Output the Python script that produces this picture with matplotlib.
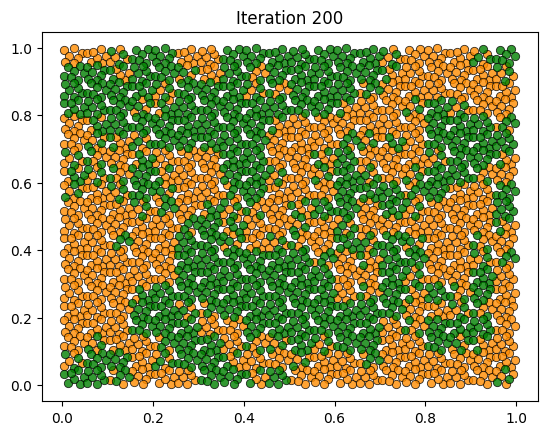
import numpy as np
import matplotlib
matplotlib.use("Agg")
import matplotlib.pyplot as plt

# colour map of the grid, top row first (y = 1 down to 0)
# O = orange, G = green, o = mostly orange, g = mostly green
grid_rows = [
    "OOoGGOOGGGGGGGoOOOgG",
    "GGoGGgOGoGGGGGoOOOOo",
    "GGGGoGGGooGGGgOOOOOO",
    "GGGggGGGGGGGoOOoGoOO",
    "OgGGGGGGGoOOOOOOGGGg",
    "OoogGGGGGOOOgogOGGGG",
    "ooOgOOOGGOOoGOOOoGGo",
    "gooGoOOGGoOoGgOoGGoO",
    "oOoGgOOgGOOOGGGgGOOG",
    "OOOogOgooOoGGOGoOOOG",
    "OOOOOgGgOOoOgOOOOOOo",
    "OOgOOGGgOooOGgGgOOoO",
    "OOOOOGGGGGGgOoGGOOog",
    "OOOOOGGGGGGGOOGoOOGO",
    "OOOgGGGGGGGGOoGoGoGO",
    "OOOGGggGGGGGGGGOOooO",
    "OOOGGGOOGGGGGGOoGGGO",
    "OoOOgGGOooGoGGOOGgoO",
    "oGGOgGGoOOoOOgOOOOOO",
    "GGgOOOGGoGOOOOOOOOOo",
]

# where the agents sit inside one cell (fractions of the cell), two layouts
spots_a = [(0.10, 0.15), (0.52, 0.05), (0.86, 0.30), (0.33, 0.47),
           (0.70, 0.62), (0.15, 0.83), (0.55, 0.93)]
spots_b = [(0.22, 0.08), (0.74, 0.12), (0.05, 0.48), (0.46, 0.36),
           (0.90, 0.70), (0.30, 0.90), (0.62, 0.72)]
minority_spots = [1, 4, 5]

n_rows = len(grid_rows)
n_cols = len(grid_rows[0])

xs_o, ys_o, xs_g, ys_g = [], [], [], []
for r, row in enumerate(grid_rows):
    for c, kind in enumerate(row):
        layout = spots_a if (r + c) % 2 == 0 else spots_b
        flip = (r * 5 + c * 3) % 4
        for k, (dx, dy) in enumerate(layout):
            if flip & 1:
                dx = 1 - dx
            if flip & 2:
                dy = 1 - dy
            x = (c + dx) / n_cols
            y = 1 - (r + dy) / n_rows
            if kind == "O":
                orange = True
            elif kind == "G":
                orange = False
            elif kind == "o":
                orange = k not in minority_spots
            else:
                orange = k in minority_spots
            if orange:
                xs_o.append(x)
                ys_o.append(y)
            else:
                xs_g.append(x)
                ys_g.append(y)

fig, ax = plt.subplots()
ax.scatter(xs_o, ys_o, c="darkorange", edgecolors="k", linewidths=0.6, alpha=0.8)
ax.scatter(xs_g, ys_g, c="green", edgecolors="k", linewidths=0.6, alpha=0.8)
ax.set_title("Iteration 200")
plt.savefig("out.png", bbox_inches="tight")
